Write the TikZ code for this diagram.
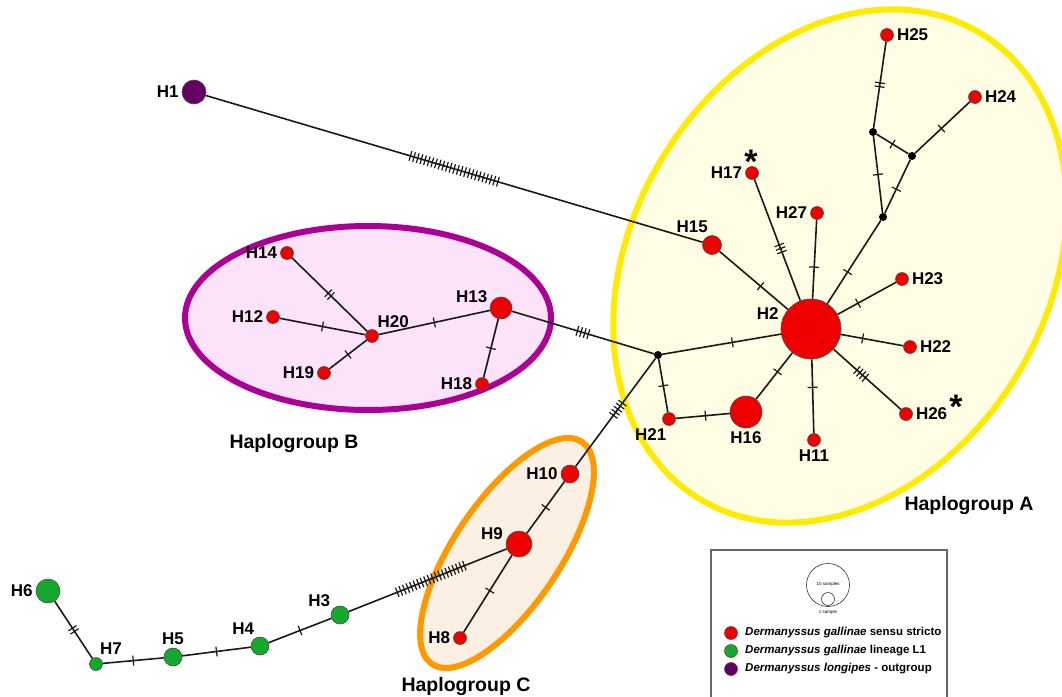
\documentclass[tikz,border=0pt]{standalone}
\usepackage{fontspec}
\setmainfont{Liberation Sans}
\usetikzlibrary{decorations.markings}

\definecolor{sstr}{HTML}{EE0000}
\definecolor{lineLone}{HTML}{14A82C}
\definecolor{outg}{HTML}{640064}
\definecolor{grpAline}{HTML}{FFEB00}
\definecolor{grpAfill}{HTML}{FFFDE4}
\definecolor{grpBline}{HTML}{AA0095}
\definecolor{grpBfill}{HTML}{FCE3FA}
\definecolor{grpCline}{HTML}{FF9900}
\definecolor{grpCfill}{HTML}{FCF0E2}

\tikzset{
  hap/.style={circle, draw=black!70, line width=0.6pt, inner sep=0pt, minimum size=#1},
  junc/.style={circle, fill=black, inner sep=0pt, minimum size=8pt},
  lab/.style={font=\bfseries\fontsize{17}{19}\selectfont, inner sep=1pt, label distance=2pt},
  grp/.style={font=\bfseries\fontsize{19.5}{22}\selectfont, inner sep=0pt},
  leg/.style={font=\bfseries\fontsize{11.5}{13}\selectfont, inner sep=0pt, anchor=west},
  asterisk/.style={font=\bfseries\fontsize{34}{34}\selectfont, inner sep=0pt},
  link/.style={line width=1.6pt, black!90},
  cuts/.style 2 args={postaction={decorate, decoration={markings,
      mark=at position #2 with {\foreach \k in {1,...,#1}
        {\draw[line width=1.2pt] ({(\k-(#1+1)/2)*3.8pt},-5pt) -- ++(0pt,10pt);}}}}},
}

\begin{document}
\begin{tikzpicture}[x=1pt,y=-1pt]
\clip (0,0) rectangle (1062,696);

% haplogroup areas
\draw[grpAline, fill=grpAfill, line width=6pt, rotate around={59:(840,266)}]
  (840,266) ellipse [x radius=272pt, y radius=208pt];
\draw[grpBline, fill=grpBfill, line width=6pt]
  (368,318) ellipse [x radius=183pt, y radius=92pt];
\draw[grpCline, fill=grpCfill, line width=6pt, rotate around={56:(507,553)}]
  (507,553) ellipse [x radius=134pt, y radius=53pt];

\node[grp] (grpA) at (969,505) {Haplogroup A};
\node[grp] (grpB) at (294,443) {Haplogroup B};
\node[grp] (grpC) at (466,686) {Haplogroup C};

% haplotypes
\node[hap=24pt, fill=outg, label={[lab]180:H1}] (H1) at (194,92) {};
\node[hap=60pt, fill=sstr, label={[lab]165:H2}] (H2) at (811,329) {};
\node[hap=19pt, fill=sstr, label={[lab]105:H15}] (H15) at (712,245) {};
\node[hap=13pt, fill=sstr, label={[lab]180:H17}] (H17) at (752,173) {};
\node[hap=13pt, fill=sstr, label={[lab]180:H27}] (H27) at (817,213) {};
\node[hap=13pt, fill=sstr, label={[lab]0:H23}] (H23) at (902,279) {};
\node[hap=13pt, fill=sstr, label={[lab]0:H22}] (H22) at (910,347) {};
\node[hap=13pt, fill=sstr, label={[lab]0:H26}] (H26) at (906,414) {};
\node[hap=13pt, fill=sstr, label={[lab]-90:H11}] (H11) at (814,440) {};
\node[hap=32pt, fill=sstr, label={[lab]-90:H16}] (H16) at (746,412) {};
\node[hap=13pt, fill=sstr, label={[lab]-100:H21}] (H21) at (669,419) {};
\node[hap=13pt, fill=sstr, label={[lab]0:H25}] (H25) at (887,35) {};
\node[hap=13pt, fill=sstr, label={[lab]0:H24}] (H24) at (975,97) {};
\node[junc] (J1) at (658,355) {};
\node[junc] (J2) at (873,132) {};
\node[junc] (J3) at (912,156) {};
\node[junc] (J4) at (883,217) {};
\node[asterisk] (st17) at (751,162) {*};
\node[asterisk] (st26) at (956,407) {*};

\node[hap=13pt, fill=sstr, label={[lab]180:H14}] (H14) at (287,253) {};
\node[hap=13pt, fill=sstr, label={[lab]180:H12}] (H12) at (273,317) {};
\node[hap=13pt, fill=sstr, label={[lab]60:H20}] (H20) at (372,336) {};
\node[hap=13pt, fill=sstr, label={[lab]180:H19}] (H19) at (324,373) {};
\node[hap=22pt, fill=sstr, label={[lab]160:H13}] (H13) at (501,308) {};
\node[hap=13pt, fill=sstr, label={[lab]180:H18}] (H18) at (482,384) {};

\node[hap=18pt, fill=sstr, label={[lab]180:H10}] (H10) at (570,474) {};
\node[hap=26pt, fill=sstr, label={[lab]170:H9}] (H9) at (519,544) {};
\node[hap=13pt, fill=sstr, label={[lab]180:H8}] (H8) at (460,638) {};

\node[hap=24pt, fill=lineLone, label={[lab]180:H6}] (H6) at (48,591) {};
\node[hap=13pt, fill=lineLone, label={[lab]70:H7}] (H7) at (96,664) {};
\node[hap=18pt, fill=lineLone, label={[lab]90:H5}] (H5) at (173,657) {};
\node[hap=18pt, fill=lineLone, label={[lab]115:H4}] (H4) at (260,646) {};
\node[hap=18pt, fill=lineLone, label={[lab]140:H3}] (H3) at (340,615) {};

% links with mutation steps
\draw[link, cuts={25}{0.5}] (H1) -- (H15);
\draw[link, cuts={1}{0.4}] (H2) -- (H15);
\draw[link, cuts={3}{0.43}] (H2) -- (H17);
\draw[link, cuts={1}{0.4}] (H2) -- (H27);
\draw[link, cuts={1}{0.38}] (H2) -- (J4);
\draw[link, cuts={1}{0.35}] (H2) -- (H23);
\draw[link, cuts={1}{0.35}] (H2) -- (H22);
\draw[link, cuts={4}{0.41}] (H2) -- (H26);
\draw[link, cuts={1}{0.38}] (H2) -- (H11);
\draw[link, cuts={1}{0.41}] (H2) -- (H16);
\draw[link, cuts={1}{0.41}] (H2) -- (J1);
\draw[link, cuts={1}{0.5}] (J1) -- (H21);
\draw[link, cuts={1}{0.55}] (H21) -- (H16);
\draw[link, cuts={4}{0.5}] (J1) -- (H13);
\draw[link, cuts={5}{0.47}] (J1) -- (H10);
\draw[link, cuts={1}{0.5}] (J4) -- (J2);
\draw[link, cuts={1}{0.45}] (J4) -- (J3);
\draw[link, cuts={1}{0.5}] (J2) -- (J3);
\draw[link, cuts={2}{0.5}] (J2) -- (H25);
\draw[link, cuts={1}{0.48}] (J3) -- (H24);

\draw[link, cuts={1}{0.5}] (H13) -- (H20);
\draw[link, cuts={1}{0.5}] (H13) -- (H18);
\draw[link, cuts={2}{0.5}] (H20) -- (H14);
\draw[link, cuts={1}{0.5}] (H20) -- (H12);
\draw[link, cuts={1}{0.5}] (H20) -- (H19);

\draw[link, cuts={1}{0.5}] (H10) -- (H9);
\draw[link, cuts={1}{0.46}] (H9) -- (H8);
\draw[link, cuts={20}{0.48}] (H9) -- (H3);
\draw[link, cuts={1}{0.5}] (H3) -- (H4);
\draw[link, cuts={1}{0.5}] (H4) -- (H5);
\draw[link, cuts={1}{0.5}] (H5) -- (H7);
\draw[link, cuts={2}{0.5}] (H7) -- (H6);

% legend
\draw[black!60, line width=1.2pt] (711,550) rectangle (947,720);
\node[circle, draw=black!80, line width=0.6pt, inner sep=0pt, minimum size=43pt] (big) at (828,585) {};
\node[circle, draw=black!80, line width=0.6pt, inner sep=0pt, minimum size=13pt] (small) at (828,599) {};
\node[font=\fontsize{4.5}{5}\selectfont, inner sep=0pt] (tens) at (828,584) {10 samples};
\node[font=\fontsize{4.5}{5}\selectfont, inner sep=0pt] (ones) at (828,612) {1 sample};
\node[hap=13pt, fill=sstr] (keyA) at (731,633) {};
\node[hap=13pt, fill=lineLone] (keyB) at (731,651) {};
\node[hap=13pt, fill=outg] (keyC) at (731,669) {};
\node[leg] (keyAt) at (745,633) {\textit{Dermanyssus gallinae} sensu stricto};
\node[leg] (keyBt) at (745,651) {\textit{Dermanyssus gallinae} lineage L1};
\node[leg] (keyCt) at (745,669) {\textit{Dermanyssus longipes} - outgroup};
\end{tikzpicture}
\end{document}
